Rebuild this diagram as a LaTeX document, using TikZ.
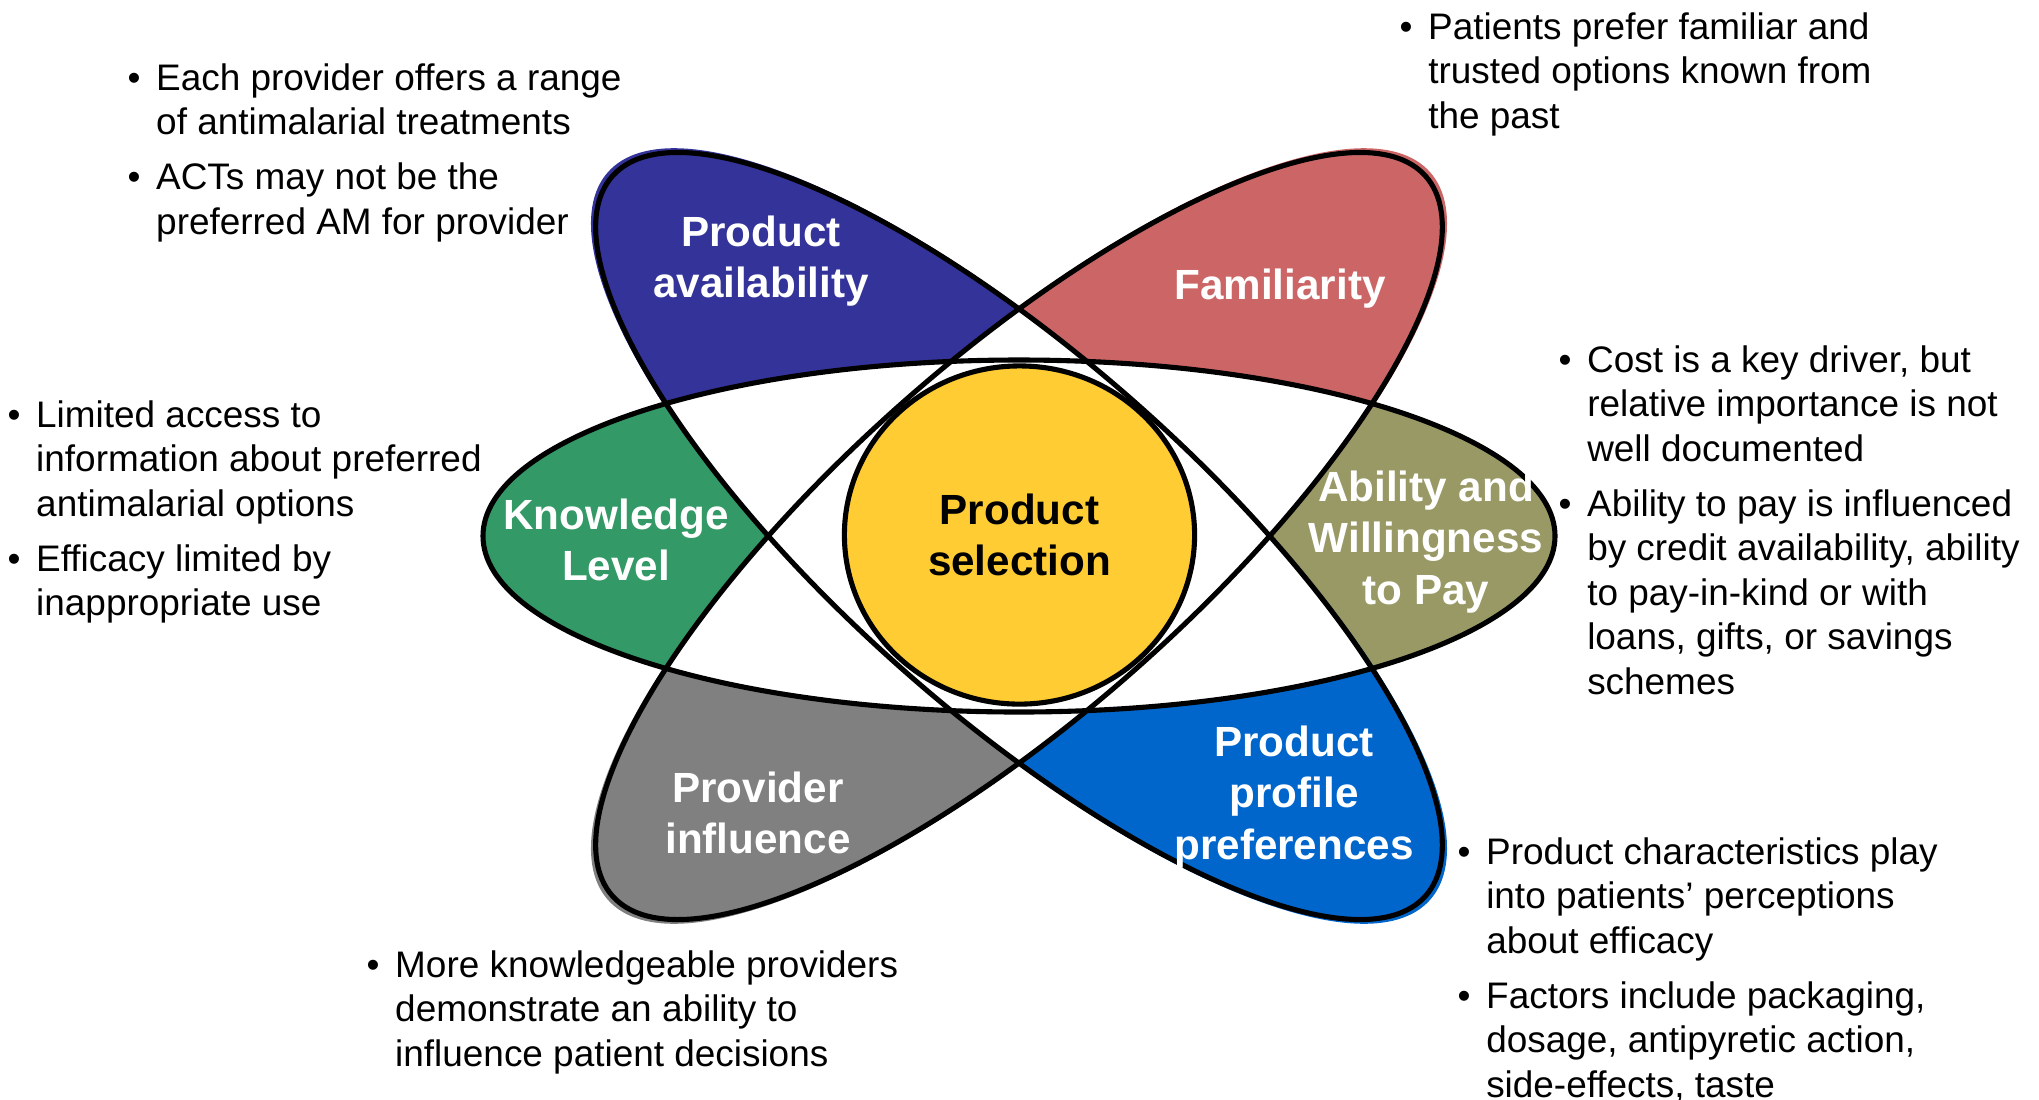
\documentclass[tikz,border=0pt]{standalone}
\usepackage{fontspec}
\setmainfont{Liberation Sans}
\usepackage{xcolor}
\usepackage{tikz}
\usetikzlibrary{shapes.geometric}
\definecolor{Indigo}{RGB}{51, 51, 153}
\definecolor{Rose}{RGB}{204, 102, 102}
\definecolor{Jade}{RGB}{51, 153, 102}
\definecolor{Sage}{RGB}{153, 153, 102}
\definecolor{Slate}{RGB}{128, 128, 128}
\definecolor{Azure}{RGB}{0, 102, 204}
\definecolor{Amber}{RGB}{255, 204, 51}
\newcommand{\notefont}{\fontsize{10.5}{12.66}\selectfont}
\tikzset{
  outline/.style={draw=black, line width=1.45pt},
  petal/.style={text=white, font=\bfseries\fontsize{12}{14.6}\selectfont, align=center, inner sep=0pt},
  hub/.style={ellipse, fill=Amber, outline, minimum width=3.5cm, minimum height=3.38cm, inner sep=0pt,
    font=\bfseries\fontsize{12}{14.6}\selectfont, align=center},
  notes/.style={anchor=base west, inner sep=0pt, font=\notefont},
}

\begin{document}
\begin{tikzpicture}[x=0.01cm, y=-0.01cm]
\useasboundingbox (0,0) rectangle (2039,1099);
\coordinate (mid) at (1019,536);

% lobes, one colour per half
\begin{scope}
  \clip (0,0) rectangle (1019,1099);
  \fill[Jade] (mid) ellipse [x radius=536, y radius=176];
\end{scope}
\begin{scope}
  \clip (1019,0) rectangle (2039,1099);
  \fill[Sage] (mid) ellipse [x radius=536, y radius=176];
\end{scope}
\begin{scope}
  \clip (0,0) rectangle (2039,536);
  \fill[Indigo, rotate around={-41.5:(mid)}] (mid) ellipse [x radius=549, y radius=179];
  \fill[Rose, rotate around={41.5:(mid)}] (mid) ellipse [x radius=549, y radius=179];
\end{scope}
\begin{scope}
  \clip (0,536) rectangle (2039,1099);
  \fill[Azure, rotate around={-41.5:(mid)}] (mid) ellipse [x radius=549, y radius=179];
  \fill[Slate, rotate around={41.5:(mid)}] (mid) ellipse [x radius=549, y radius=179];
\end{scope}

% overlaps stay white
\begin{scope}
  \clip (mid) ellipse [x radius=536, y radius=176];
  \fill[white, rotate around={-41.5:(mid)}] (mid) ellipse [x radius=543, y radius=177];
  \fill[white, rotate around={41.5:(mid)}] (mid) ellipse [x radius=543, y radius=177];
\end{scope}
\begin{scope}
  \clip[rotate around={41.5:(mid)}] (mid) ellipse [x radius=543, y radius=177];
  \fill[white, rotate around={-41.5:(mid)}] (mid) ellipse [x radius=543, y radius=177];
\end{scope}

\draw[outline] (mid) ellipse [x radius=536, y radius=176];
\draw[outline, rotate around={-41.5:(mid)}] (mid) ellipse [x radius=543, y radius=177];
\draw[outline, rotate around={41.5:(mid)}] (mid) ellipse [x radius=543, y radius=177];

\node[hub] (hub) at (1019.5,535) {Product\\selection};

\node[petal] (avail) at (761,261) {Product\\availability};
\node[petal] (famil) at (1280,289) {Familiarity};
\node[petal] (know) at (616,540) {Knowledge\\Level};
\node[petal] (pay) at (1426,542) {Ability and\\Willingness\\to Pay};
\node[petal] (provider) at (758,813) {Provider\\influence};
\node[petal] (profile) at (1294,797) {Product\\profile\\preferences};

% bullet notes
\node[notes] (availnote) at (127,90) {\begin{tabular}[t]{@{}l@{\hskip 0.156cm}l@{}}
\textbullet & Each provider offers a range\\
 & of antimalarial treatments\\[3pt]
\textbullet & ACTs may not be the\\
 & preferred AM for provider
\end{tabular}};
\node[notes] (familnote) at (1399,39) {\begin{tabular}[t]{@{}l@{\hskip 0.156cm}l@{}}
\textbullet & Patients prefer familiar and\\
 & trusted options known from\\
 & the past
\end{tabular}};
\node[notes] (knownote) at (7,427) {\begin{tabular}[t]{@{}l@{\hskip 0.156cm}l@{}}
\textbullet & Limited access to\\
 & information about preferred\\
 & antimalarial options\\[3pt]
\textbullet & Efficacy limited by\\
 & inappropriate use
\end{tabular}};
\node[notes] (paynote) at (1558,372) {\begin{tabular}[t]{@{}l@{\hskip 0.156cm}l@{}}
\textbullet & Cost is a key driver, but\\
 & relative importance is not\\
 & well documented\\[3pt]
\textbullet & Ability to pay is influenced\\
 & by credit availability, ability\\
 & to pay-in-kind or with\\
 & loans, gifts, or savings\\
 & schemes
\end{tabular}};
\node[notes] (profilenote) at (1457,864) {\begin{tabular}[t]{@{}l@{\hskip 0.156cm}l@{}}
\textbullet & Product characteristics play\\
 & into patients’ perceptions\\
 & about efficacy\\[3pt]
\textbullet & Factors include packaging,\\
 & dosage, antipyretic action,\\
 & side-effects, taste
\end{tabular}};
\node[notes] (providernote) at (366,977) {\begin{tabular}[t]{@{}l@{\hskip 0.156cm}l@{}}
\textbullet & More knowledgeable providers\\
 & demonstrate an ability to\\
 & influence patient decisions
\end{tabular}};
\end{tikzpicture}
\end{document}
